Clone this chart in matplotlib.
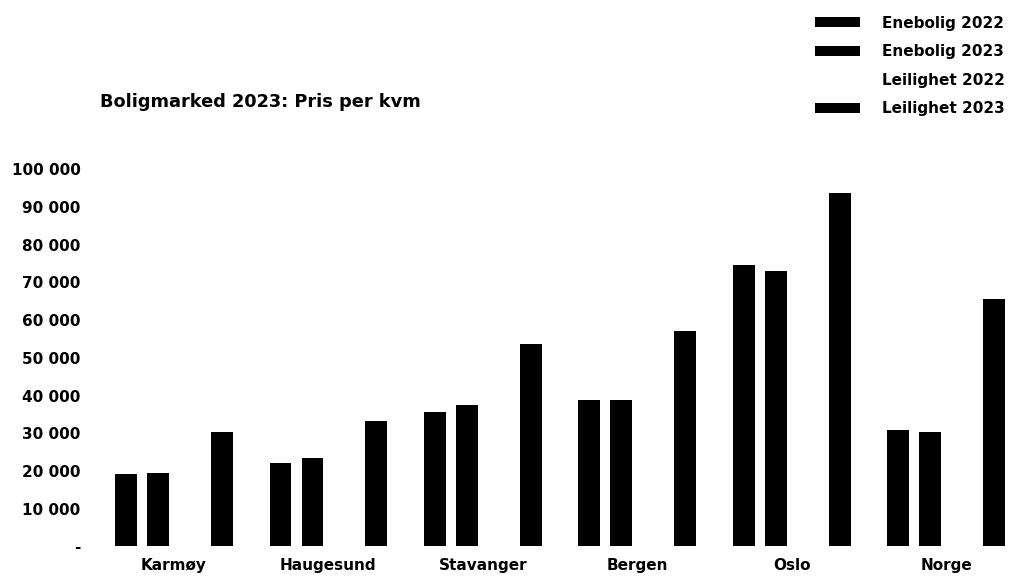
import matplotlib.pyplot as plt
import numpy as np

plt.rcParams['font.family'] = ['DejaVu Sans']
plt.rcParams['font.weight'] = 'bold'

steder = ["Karmøy", "Haugesund", "Stavanger", "Bergen", "Oslo", "Norge"]
enebolig_2022 = [19150, 22100, 35700, 38750, 74550, 30850]
enebolig_2023 = [19400, 23350, 37400, 38750, 73050, 30350]
leilighet_2022 = [0, 0, 0, 0, 0, 0]
leilighet_2023 = [30300, 33300, 53750, 57150, 93650, 65600]
serier = ["Enebolig 2022", "Enebolig 2023", "Leilighet 2022", "Leilighet 2023"]
farger = ["black", "black", "white", "black"]

y_ticks = np.arange(0, 100001, 10000)
y_labels = ["-"] + [f"{v // 1000} 000" for v in y_ticks[1:]]

fig = plt.figure(figsize=(10.1, 5.76), dpi=100)
ax = fig.add_axes([96 / 1010, 29.6 / 576, 914 / 1010, 377 / 576])

x = np.arange(len(steder))
slot = 0.207
bredde = 0.14
data = [enebolig_2022, enebolig_2023, leilighet_2022, leilighet_2023]
for i, (verdier, navn, farge) in enumerate(zip(data, serier, farger)):
    ax.bar(x + (i - 1.5) * slot, verdier, width=bredde, color=farge, label=navn)

ax.set_xlim(-0.504, 5.413)
ax.set_ylim(0, 100000)
ax.set_yticks(y_ticks)
ax.set_yticklabels(y_labels)
ax.set_xticks(x)
ax.set_xticklabels(steder)
ax.tick_params(axis='both', length=0, labelsize=11)
ax.tick_params(axis='y', pad=11)
ax.tick_params(axis='x', pad=8)
for s in ax.spines.values():
    s.set_visible(False)

fig.text(100 / 1010, 1 - 102 / 576, "Boligmarked 2023: Pris per kvm",
         fontsize=12.8, fontweight='bold', va='center', ha='left')

fig.legend(loc='upper left', bbox_to_anchor=(801 / 1010, 1 - 2 / 576),
           frameon=False, fontsize=11, handlelength=2.95, handleheight=0.65,
           handletextpad=1.45, labelspacing=0.88)

plt.savefig("out.png", dpi=100)
